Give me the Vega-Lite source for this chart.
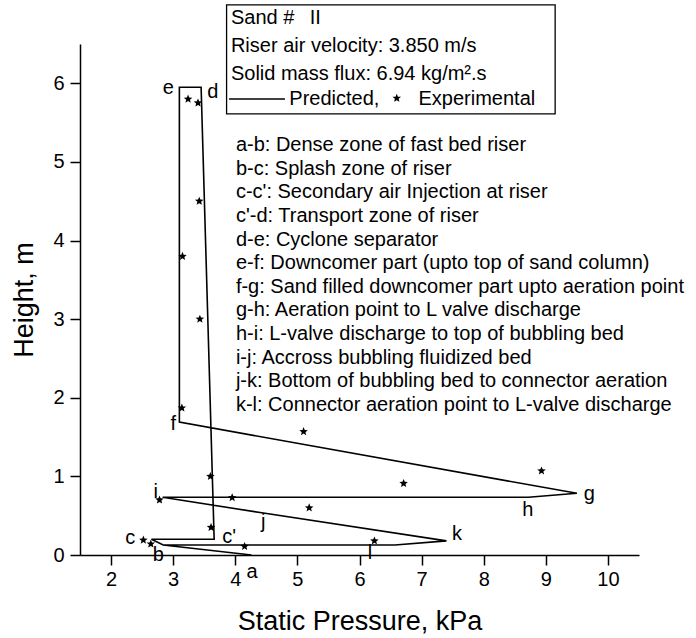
{
  "$schema": "https://vega.github.io/schema/vega-lite/v6.json",
  "width": 559,
  "height": 511,
  "autosize": "none",
  "padding": {"left": 80, "top": 44, "right": 57, "bottom": 83},
  "background": "white",
  "config": {
    "view": {"stroke": null},
    "font": "Liberation Sans",
    "axis": {"grid": false, "domainColor": "black", "domainWidth": 1.5, "tickColor": "black", "tickWidth": 1.5, "labelColor": "black", "titleColor": "black", "labelFont": "Liberation Sans", "titleFont": "Liberation Sans", "titleFontWeight": "normal", "labelFontSize": 20, "titleFontSize": 27}
  },
  "datasets": {
    "path": [
      {"ord": 1, "pt": "a", "p": 4.26, "h": 0.0},
      {"ord": 2, "pt": "b", "p": 2.84, "h": 0.127},
      {"ord": 3, "pt": "c", "p": 2.65, "h": 0.2},
      {"ord": 4, "pt": "c'", "p": 3.66, "h": 0.2},
      {"ord": 5, "pt": "d", "p": 3.45, "h": 5.95},
      {"ord": 6, "pt": "e", "p": 3.1, "h": 5.95},
      {"ord": 7, "pt": "f", "p": 3.1, "h": 1.69},
      {"ord": 8, "pt": "g", "p": 9.5, "h": 0.785},
      {"ord": 9, "pt": "h", "p": 8.72, "h": 0.735},
      {"ord": 10, "pt": "i", "p": 2.83, "h": 0.735},
      {"ord": 11, "pt": "j", "p": 4.4, "h": 0.54},
      {"ord": 12, "pt": "k", "p": 7.4, "h": 0.18},
      {"ord": 13, "pt": "k2", "p": 6.57, "h": 0.127},
      {"ord": 14, "pt": "l", "p": 6.17, "h": 0.127},
      {"ord": 15, "pt": "b", "p": 2.84, "h": 0.127}
    ],
    "exp": [
      {"p": 3.24, "h": 5.8},
      {"p": 3.4, "h": 5.75},
      {"p": 3.42, "h": 4.5},
      {"p": 3.15, "h": 3.8},
      {"p": 3.43, "h": 3.0},
      {"p": 3.14, "h": 1.87},
      {"p": 5.1, "h": 1.57},
      {"p": 8.93, "h": 1.07},
      {"p": 6.71, "h": 0.91},
      {"p": 3.6, "h": 1.0},
      {"p": 3.95, "h": 0.73},
      {"p": 2.78, "h": 0.7},
      {"p": 5.19, "h": 0.6},
      {"p": 3.61, "h": 0.35},
      {"p": 2.52, "h": 0.19},
      {"p": 2.64, "h": 0.14},
      {"p": 4.15, "h": 0.11},
      {"p": 6.24, "h": 0.18}
    ],
    "ptlabels": [
      {"t": "e", "p": 2.92, "h": 5.94, "w": "normal"},
      {"t": "d", "p": 3.64, "h": 5.89, "w": "normal"},
      {"t": "c", "p": 2.31, "h": 0.22, "w": "normal"},
      {"t": "c'", "p": 3.9, "h": 0.23, "w": "normal"},
      {"t": "b", "p": 2.76, "h": 0.0, "w": "normal"},
      {"t": "a", "p": 4.27, "h": -0.22, "w": "normal"},
      {"t": "f", "p": 3.0, "h": 1.67, "w": "normal"},
      {"t": "g", "p": 9.7, "h": 0.78, "w": "normal"},
      {"t": "h", "p": 8.71, "h": 0.57, "w": "normal"},
      {"t": "i", "p": 2.72, "h": 0.8, "w": "normal"},
      {"t": "j", "p": 4.45, "h": 0.42, "w": "normal"},
      {"t": "k", "p": 7.57, "h": 0.27, "w": "normal"},
      {"t": "l", "p": 6.17, "h": 0.03, "w": "bold"}
    ],
    "notes": [
      {"t": "a-b: Dense zone of fast bed riser", "p": 4.01, "h": 5.216},
      {"t": "b-c: Splash zone of riser", "p": 4.01, "h": 4.916},
      {"t": "c-c': Secondary air Injection at riser", "p": 4.01, "h": 4.615},
      {"t": "c'-d: Transport zone of riser", "p": 4.01, "h": 4.314},
      {"t": "d-e: Cyclone separator", "p": 4.01, "h": 4.013},
      {"t": "e-f: Downcomer part (upto top of sand column)", "p": 4.01, "h": 3.712},
      {"t": "f-g: Sand filled downcomer part upto aeration point", "p": 4.01, "h": 3.412},
      {"t": "g-h: Aeration point to L valve discharge", "p": 4.01, "h": 3.111},
      {"t": "h-i: L-valve discharge to top of bubbling bed", "p": 4.01, "h": 2.81},
      {"t": "i-j: Accross bubbling fluidized bed", "p": 4.01, "h": 2.509},
      {"t": "j-k: Bottom of bubbling bed to connector aeration", "p": 4.01, "h": 2.209},
      {"t": "k-l: Connector aeration point to L-valve discharge", "p": 4.01, "h": 1.908}
    ],
    "box": [{"x1": 3.86, "x2": 9.15, "y1": 6.997, "y2": 5.61}],
    "legtext": [
      {"t": "Sand # ", "p": 3.93, "h": 6.83, "w": "normal"},
      {"t": "II", "p": 5.2, "h": 6.83, "w": "bold"},
      {"t": "Riser air velocity: 3.850 m/s", "p": 3.93, "h": 6.476, "w": "normal"},
      {"t": "Solid mass flux: 6.94 kg/m².s", "p": 3.93, "h": 6.12, "w": "normal"},
      {"t": "Predicted,", "p": 4.87, "h": 5.8, "w": "normal"},
      {"t": "Experimental", "p": 6.95, "h": 5.8, "w": "normal"}
    ],
    "legline": [{"x1": 3.9, "x2": 4.8, "h": 5.8}],
    "legstar": [{"p": 6.6, "h": 5.81}]
  },
  "layer": [
    {
      "data": {"name": "path"},
      "mark": {"type": "line", "color": "black", "strokeWidth": 1.6, "clip": false},
      "encoding": {
        "x": {"field": "p", "type": "quantitative", "scale": {"domain": [1.5, 10.5], "nice": false, "zero": false},
          "axis": {"orient": "bottom", "values": [2, 2.5, 3, 3.5, 4, 4.5, 5, 5.5, 6, 6.5, 7, 7.5, 8, 8.5, 9, 9.5, 10, 10.5],
            "labelExpr": "datum.value % 1 === 0 ? format(datum.value, 'd') : ''",
            "tickSize": {"condition": {"test": "datum.value % 1 !== 0", "value": 5}, "value": 10},
            "labelPadding": 4, "title": "Static Pressure, kPa", "titlePadding": 19}},
        "y": {"field": "h", "type": "quantitative", "scale": {"domain": [0, 6.5], "nice": false, "zero": false},
          "axis": {"orient": "left", "values": [0, 0.5, 1, 1.5, 2, 2.5, 3, 3.5, 4, 4.5, 5, 5.5, 6, 6.5],
            "labelExpr": "datum.value % 1 === 0 ? format(datum.value, 'd') : ''",
            "tickSize": {"condition": {"test": "datum.value % 1 !== 0", "value": 5}, "value": 10},
            "labelPadding": 6, "title": "Height, m", "titlePadding": 14}},
        "order": {"field": "ord", "type": "quantitative"}
      }
    },
    {
      "data": {"name": "exp"},
      "mark": {"type": "point", "shape": "M0,-1L0.26,-0.36L0.951,-0.309L0.42,0.14L0.588,0.809L0,0.44L-0.588,0.809L-0.42,0.14L-0.951,-0.309L-0.26,-0.36Z", "filled": true, "color": "black", "size": 80, "opacity": 1},
      "encoding": {
        "x": {"field": "p", "type": "quantitative"},
        "y": {"field": "h", "type": "quantitative"}
      }
    },
    {
      "data": {"name": "ptlabels"},
      "mark": {"type": "text", "fontSize": 20, "color": "black", "align": "center", "baseline": "middle"},
      "encoding": {
        "x": {"field": "p", "type": "quantitative"},
        "y": {"field": "h", "type": "quantitative"},
        "text": {"field": "t"},
        "fontWeight": {"field": "w", "type": "nominal", "scale": null}
      }
    },
    {
      "data": {"name": "notes"},
      "mark": {"type": "text", "fontSize": 20, "color": "black", "align": "left", "baseline": "middle"},
      "encoding": {
        "x": {"field": "p", "type": "quantitative"},
        "y": {"field": "h", "type": "quantitative"},
        "text": {"field": "t"}
      }
    },
    {
      "data": {"name": "box"},
      "mark": {"type": "rect", "fill": "white", "stroke": "black", "strokeWidth": 1.3},
      "encoding": {
        "x": {"field": "x1", "type": "quantitative"},
        "x2": {"field": "x2"},
        "y": {"field": "y1", "type": "quantitative"},
        "y2": {"field": "y2"}
      }
    },
    {
      "data": {"name": "legtext"},
      "mark": {"type": "text", "fontSize": 20, "color": "black", "align": "left", "baseline": "middle"},
      "encoding": {
        "x": {"field": "p", "type": "quantitative"},
        "y": {"field": "h", "type": "quantitative"},
        "text": {"field": "t"},
        "fontWeight": {"field": "w", "type": "nominal", "scale": null}
      }
    },
    {
      "data": {"name": "legline"},
      "mark": {"type": "rule", "color": "black", "strokeWidth": 1.6},
      "encoding": {
        "x": {"field": "x1", "type": "quantitative"},
        "x2": {"field": "x2"},
        "y": {"field": "h", "type": "quantitative"}
      }
    },
    {
      "data": {"name": "legstar"},
      "mark": {"type": "point", "shape": "M0,-1L0.26,-0.36L0.951,-0.309L0.42,0.14L0.588,0.809L0,0.44L-0.588,0.809L-0.42,0.14L-0.951,-0.309L-0.26,-0.36Z", "filled": true, "color": "black", "size": 80, "opacity": 1},
      "encoding": {
        "x": {"field": "p", "type": "quantitative"},
        "y": {"field": "h", "type": "quantitative"}
      }
    }
  ]
}
